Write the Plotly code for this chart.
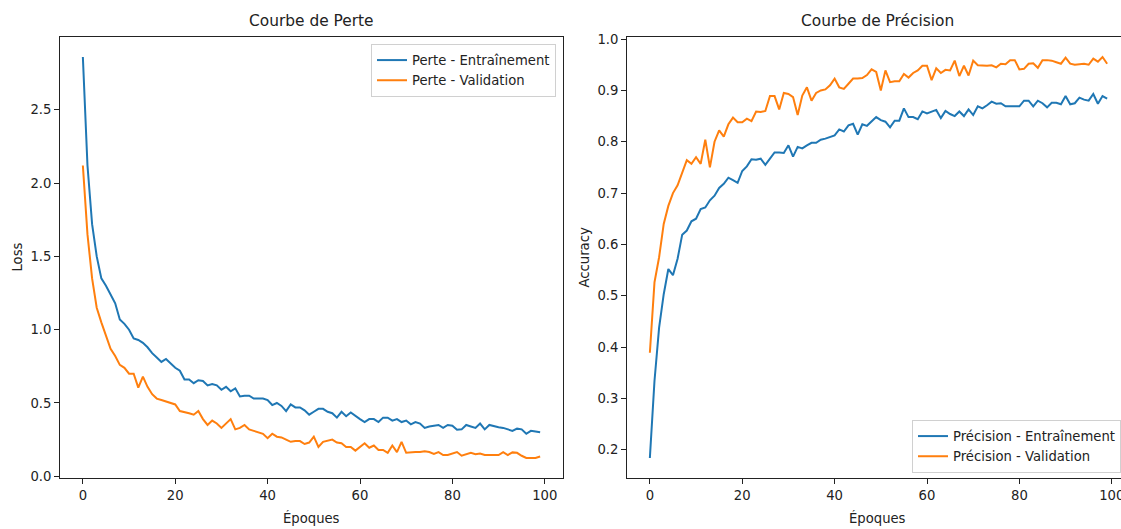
import plotly.graph_objects as go

epochs = list(range(100))

loss_train = [
    2.86, 2.12, 1.72, 1.50, 1.35, 1.30, 1.24, 1.18, 1.07, 1.04,
    1.00, 0.94, 0.93, 0.91, 0.88, 0.84, 0.81, 0.78, 0.80, 0.77,
    0.74, 0.72, 0.66, 0.66, 0.635, 0.655, 0.65, 0.62, 0.63, 0.62,
    0.59, 0.61, 0.58, 0.60, 0.545, 0.55, 0.55, 0.53, 0.53, 0.53,
    0.52, 0.486, 0.50, 0.48, 0.445, 0.49, 0.47, 0.47, 0.45, 0.42,
    0.44, 0.46, 0.46, 0.44, 0.43, 0.40, 0.44, 0.41, 0.435, 0.41,
    0.39, 0.37, 0.39, 0.39, 0.37, 0.40, 0.40, 0.38, 0.39, 0.37,
    0.38, 0.354, 0.37, 0.36, 0.33, 0.34, 0.345, 0.35, 0.33, 0.35,
    0.345, 0.317, 0.32, 0.35, 0.34, 0.33, 0.36, 0.32, 0.35, 0.34,
    0.335, 0.33, 0.32, 0.31, 0.325, 0.32, 0.29, 0.31, 0.305, 0.30,
]

loss_val = [
    2.12, 1.65, 1.35, 1.15, 1.05, 0.96, 0.87, 0.82, 0.76, 0.74,
    0.70, 0.70, 0.605, 0.68, 0.61, 0.56, 0.53, 0.52, 0.51, 0.50,
    0.49, 0.445, 0.44, 0.43, 0.42, 0.445, 0.39, 0.35, 0.38, 0.36,
    0.33, 0.36, 0.39, 0.32, 0.33, 0.35, 0.32, 0.31, 0.30, 0.29,
    0.26, 0.29, 0.27, 0.265, 0.25, 0.235, 0.24, 0.24, 0.22, 0.23,
    0.27, 0.20, 0.235, 0.24, 0.25, 0.23, 0.225, 0.20, 0.20, 0.175,
    0.20, 0.225, 0.195, 0.21, 0.18, 0.18, 0.16, 0.21, 0.165, 0.235,
    0.16, 0.165, 0.165, 0.165, 0.17, 0.165, 0.153, 0.165, 0.145, 0.145,
    0.155, 0.165, 0.14, 0.15, 0.16, 0.15, 0.155, 0.145, 0.145, 0.145,
    0.145, 0.165, 0.145, 0.163, 0.16, 0.14, 0.125, 0.125, 0.125, 0.135,
]

acc_train = [
    0.184, 0.334, 0.438, 0.503, 0.552, 0.540, 0.572, 0.619, 0.627, 0.645,
    0.650, 0.669, 0.672, 0.686, 0.695, 0.710, 0.718, 0.730, 0.725, 0.720,
    0.743, 0.752, 0.766, 0.765, 0.767, 0.755, 0.767, 0.779, 0.779, 0.778,
    0.793, 0.771, 0.790, 0.787, 0.793, 0.798, 0.798, 0.804, 0.806, 0.810,
    0.8125, 0.824, 0.820, 0.832, 0.835, 0.814, 0.834, 0.831, 0.839, 0.848,
    0.842, 0.839, 0.828, 0.841, 0.841, 0.865, 0.848, 0.848, 0.844, 0.859,
    0.855, 0.859, 0.862, 0.846, 0.860, 0.854, 0.850, 0.859, 0.850, 0.863,
    0.852, 0.869, 0.865, 0.871, 0.878, 0.874, 0.875, 0.869, 0.869, 0.869,
    0.869, 0.880, 0.880, 0.869, 0.880, 0.875, 0.867, 0.876, 0.876, 0.873,
    0.889, 0.873, 0.875, 0.886, 0.882, 0.880, 0.893, 0.874, 0.889, 0.884,
]

acc_val = [
    0.389, 0.526, 0.575, 0.640, 0.675, 0.700, 0.715, 0.740, 0.764, 0.757,
    0.770, 0.757, 0.804, 0.750, 0.800, 0.822, 0.810, 0.834, 0.847, 0.838,
    0.838, 0.845, 0.840, 0.859, 0.858, 0.860, 0.889, 0.889, 0.863, 0.895,
    0.893, 0.887, 0.852, 0.890, 0.906, 0.880, 0.895, 0.900, 0.902, 0.910,
    0.923, 0.906, 0.903, 0.913, 0.923, 0.923, 0.924, 0.930, 0.941, 0.936,
    0.900, 0.939, 0.916, 0.918, 0.918, 0.932, 0.925, 0.934, 0.939, 0.948,
    0.948, 0.920, 0.943, 0.934, 0.940, 0.939, 0.958, 0.928, 0.948, 0.929,
    0.958, 0.949, 0.948, 0.948, 0.949, 0.945, 0.952, 0.951, 0.959, 0.959,
    0.941, 0.942, 0.952, 0.953, 0.944, 0.959, 0.959, 0.958, 0.955, 0.952,
    0.964, 0.952, 0.950, 0.951, 0.952, 0.950, 0.962, 0.956, 0.965, 0.952,
]

x_ticks = [0, 20, 40, 60, 80, 100]
loss_ticks = [0.0, 0.5, 1.0, 1.5, 2.0, 2.5]
acc_ticks = [0.2, 0.3, 0.4, 0.5, 0.6, 0.7, 0.8, 0.9, 1.0]

BLUE = "#1f77b4"
ORANGE = "#ff7f0e"
FONT = "DejaVu Sans"
FS = 13.2       # 10pt text
FS_TITLE = 15.4  # 12pt title
W, H = 1121, 529


def auto_range(vals, m=0.05):
    lo, hi = min(vals), max(vals)
    d = (hi - lo) * m
    return [lo - d, hi + d]


fig = go.Figure()
lw = 2.0
fig.add_trace(go.Scatter(x=epochs, y=loss_train, mode="lines", name="Perte - Entraînement",
                         line=dict(color=BLUE, width=lw), xaxis="x", yaxis="y", legend="legend"))
fig.add_trace(go.Scatter(x=epochs, y=loss_val, mode="lines", name="Perte - Validation",
                         line=dict(color=ORANGE, width=lw), xaxis="x", yaxis="y", legend="legend"))
fig.add_trace(go.Scatter(x=epochs, y=acc_train, mode="lines", name="Précision - Entraînement",
                         line=dict(color=BLUE, width=lw), xaxis="x2", yaxis="y2", legend="legend2"))
fig.add_trace(go.Scatter(x=epochs, y=acc_val, mode="lines", name="Précision - Validation",
                         line=dict(color=ORANGE, width=lw), xaxis="x2", yaxis="y2", legend="legend2"))

# pixel geometry of the axes boxes
L1, R1 = 60, 563
L2, R2 = 627, 1121
TOP, BOT = 37, 478


def px(x):
    return x / W


def py(y):
    return 1 - y / H


xr1 = auto_range(epochs)
px_per_unit = (R1 - L1) / (xr1[1] - xr1[0])
xr2 = [xr1[0], xr1[0] + (R2 - L2) / px_per_unit]

axis_common = dict(showgrid=False, zeroline=False, showline=True, linecolor="#222",
                   linewidth=1, ticks="outside", ticklen=5, tickwidth=1, tickcolor="#222",
                   tickfont=dict(family=FONT, size=FS, color="#222"), automargin=False,
                   ticklabeloverflow="allow")

legend_common = dict(yanchor="top", bgcolor="rgba(255,255,255,0.8)",
                     bordercolor="#d0d0d0", borderwidth=1, itemwidth=30,
                     font=dict(family=FONT, size=FS, color="#222"))

fig.update_layout(
    width=W, height=H,
    margin=dict(l=0, r=0, t=0, b=0),
    paper_bgcolor="white", plot_bgcolor="white",
    font=dict(family=FONT, size=FS, color="#222"),
    xaxis=dict(domain=[px(L1), px(R1)], range=xr1, tickvals=x_ticks, mirror=True,
               anchor="y", **axis_common),
    yaxis=dict(domain=[py(BOT), py(TOP)], range=auto_range(loss_train + loss_val),
               tickvals=loss_ticks, tickformat=".1f", mirror=True, anchor="x", **axis_common),
    xaxis2=dict(domain=[px(L2), 1.0], range=xr2, tickvals=x_ticks, mirror=True,
                anchor="y2", **axis_common),
    yaxis2=dict(domain=[py(BOT), py(TOP)], range=auto_range(acc_train + acc_val),
                tickvals=acc_ticks, tickformat=".1f", anchor="x2", **axis_common),
    legend=dict(x=px(371), y=py(44), xanchor="left", **legend_common),
    legend2=dict(x=1.0, y=py(420), xanchor="right", **legend_common),
    showlegend=True,
)

ann_font = dict(family=FONT, size=FS, color="#222")
title_font = dict(family=FONT, size=FS_TITLE, color="#222")
annotations = [
    dict(text="Courbe de Perte", x=px((L1 + R1) / 2), y=py(21), font=title_font),
    dict(text="Courbe de Précision", x=px((L2 + 1127) / 2), y=py(21), font=title_font),
    dict(text="Époques", x=px((L1 + R1) / 2), y=py(518), font=ann_font),
    dict(text="Époques", x=px((L2 + 1127) / 2), y=py(518), font=ann_font),
    dict(text="Loss", x=px(17), y=py((TOP + BOT) / 2), font=ann_font, textangle=-90),
    dict(text="Accuracy", x=px(584), y=py((TOP + BOT) / 2), font=ann_font, textangle=-90),
]
for a in annotations:
    a.update(xref="paper", yref="paper", showarrow=False, xanchor="center", yanchor="middle")
fig.update_layout(annotations=annotations)

# remove the browser's default 8px body margin so the figure fills the window exactly
fig.write_html("out.html", config={"displayModeBar": False},
               post_script="document.body.style.margin='0';document.body.style.overflow='hidden';")
